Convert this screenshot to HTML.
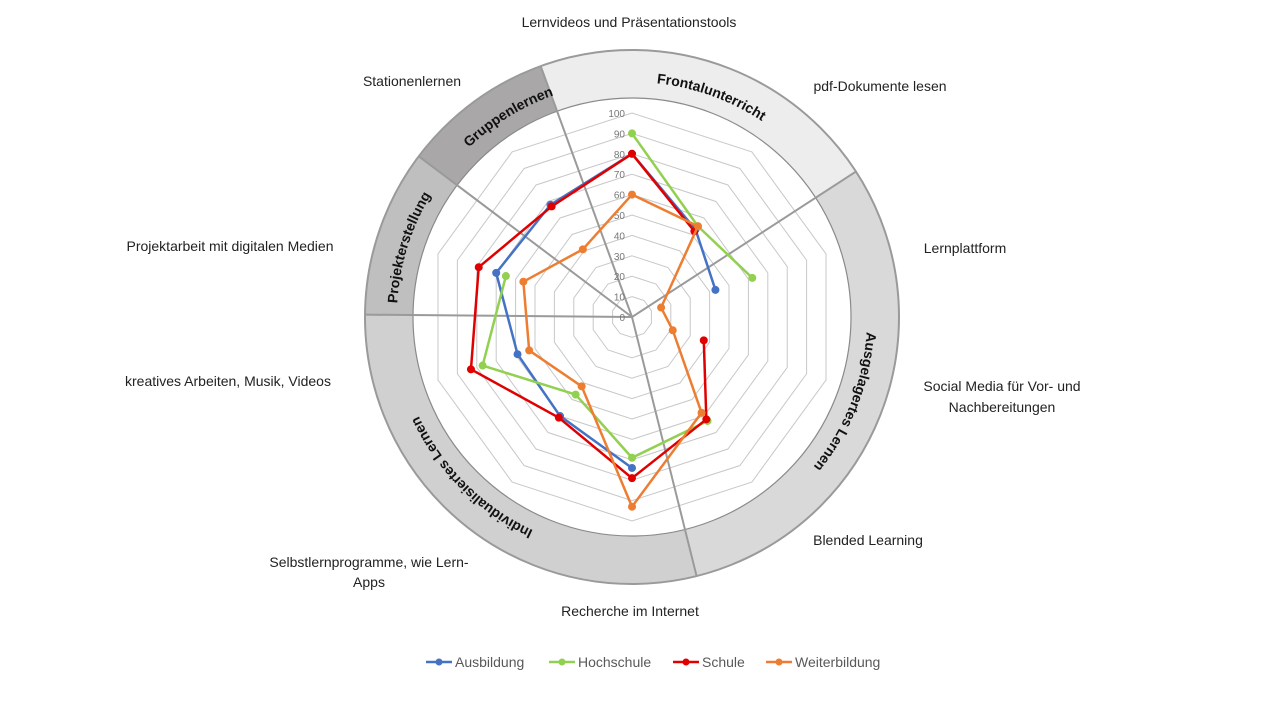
<!DOCTYPE html>
<html><head><meta charset="utf-8"><style>
html,body{margin:0;padding:0;background:#fff;}
svg{display:block;font-family:"Liberation Sans",sans-serif;}
</style></head><body>
<svg id="s" width="1280" height="720" viewBox="0 0 1280 720" xmlns="http://www.w3.org/2000/svg">
<defs>
<path id="circ" d="M632,82 A235,235 0 1 1 632,552 A235,235 0 1 1 632,82"/>
</defs>
<g id="ring"></g>
<g id="grid"></g>
<g id="series"></g>
<g font-size="14" fill="#222">
<text x="629" y="27" text-anchor="middle">Lernvideos und Präsentationstools</text>
<text x="880" y="91" text-anchor="middle">pdf-Dokumente lesen</text>
<text x="965" y="253" text-anchor="middle">Lernplattform</text>
<text x="1002" y="391" text-anchor="middle">Social Media für Vor- und</text>
<text x="1002" y="412" text-anchor="middle">Nachbereitungen</text>
<text x="868" y="545" text-anchor="middle">Blended Learning</text>
<text x="630" y="616" text-anchor="middle">Recherche im Internet</text>
<text x="369" y="567" text-anchor="middle">Selbstlernprogramme, wie Lern-</text>
<text x="369" y="587" text-anchor="middle">Apps</text>
<text x="228" y="386" text-anchor="middle">kreatives Arbeiten, Musik, Videos</text>
<text x="230" y="251" text-anchor="middle">Projektarbeit mit digitalen Medien</text>
<text x="412" y="86" text-anchor="middle">Stationenlernen</text>
</g>
<g font-size="14" font-weight="bold" fill="#111">
<text><textPath href="#circ" startOffset="5.5%" text-anchor="middle">Frontalunterricht</textPath></text>
<text><textPath href="#circ" startOffset="31%" text-anchor="middle">Ausgelagertes Lernen</textPath></text>
<text><textPath href="#circ" startOffset="62.5%" text-anchor="middle">Individualisiertes Lernen</textPath></text>
<text><textPath href="#circ" startOffset="79.8%" text-anchor="middle">Projekterstellung</textPath></text>
<text><textPath href="#circ" startOffset="91.2%" text-anchor="middle">Gruppenlernen</textPath></text>
</g>
<g font-size="14" fill="#595959">
<line x1="426" y1="662" x2="452" y2="662" stroke="#4472c4" stroke-width="2.5"/><circle cx="439" cy="662" r="3.5" fill="#4472c4"/>
<text x="455" y="667">Ausbildung</text>
<line x1="549" y1="662" x2="575" y2="662" stroke="#92d050" stroke-width="2.5"/><circle cx="562" cy="662" r="3.5" fill="#92d050"/>
<text x="578" y="667">Hochschule</text>
<line x1="673" y1="662" x2="699" y2="662" stroke="#e00000" stroke-width="2.5"/><circle cx="686" cy="662" r="3.5" fill="#e00000"/>
<text x="702" y="667">Schule</text>
<line x1="766" y1="662" x2="792" y2="662" stroke="#ed7d31" stroke-width="2.5"/><circle cx="779" cy="662" r="3.5" fill="#ed7d31"/>
<text x="795" y="667">Weiterbildung</text>
</g>
</svg>
<script>
var NS="http://www.w3.org/2000/svg",cx=632,cy=317,R=204;
function P(a,r){var t=a*Math.PI/180;return [cx+r*Math.sin(t),cy-r*Math.cos(t)];}
function el(n,at,par){var e=document.createElementNS(NS,n);for(var k in at)e.setAttribute(k,at[k]);par.appendChild(e);return e;}
var ring=document.getElementById('ring'),grid=document.getElementById('grid'),ser=document.getElementById('series');
var r1=219,r2=267;
var segs=[[-20,57,'#ededed'],[57,166,'#d9d9d9'],[166,270.5,'#d0d0d0'],[270.5,307,'#bfbfbf'],[307,340,'#a9a7a7']];
segs.forEach(function(s){var a=P(s[0],r2),b=P(s[1],r2),c=P(s[1],r1),d=P(s[0],r1);var lg=(s[1]-s[0])>180?1:0;
el('path',{d:'M'+a+' A'+r2+','+r2+' 0 '+lg+' 1 '+b+' L'+c+' A'+r1+','+r1+' 0 '+lg+' 0 '+d+' Z',fill:s[2]},ring);});
el('circle',{cx:cx,cy:cy,r:r2,fill:'none',stroke:'#9a9a9a','stroke-width':2},ring);
el('circle',{cx:cx,cy:cy,r:r1,fill:'#fff',stroke:'#8a8a8a','stroke-width':1.2},ring);
for(var k=1;k<=10;k++){var pts=[];for(var i=0;i<10;i++)pts.push(P(i*36,k*R/10).join(','));
el('polygon',{points:pts.join(' '),fill:'none',stroke:'#c8c8c8','stroke-width':1},grid);}
segs.forEach(function(s){var b=P(s[0],r2);el('line',{x1:cx,y1:cy,x2:b[0],y2:b[1],stroke:'#9a9a9a','stroke-width':2},grid);});
for(var k=0;k<=10;k++){var t=el('text',{x:625,y:cy-k*R/10+4,'text-anchor':'end','font-size':10,fill:'#777'},grid);t.textContent=k*10;}
var data=[['#4472c4',[80,53,43,null,null,74,60,59,70,68]],['#92d050',[90,55,62,null,63,69,47,77,65,null]],['#e00000',[80,52,null,37,62,79,61,83,79,67]],['#ed7d31',[60,55,15,21,58,93,42,53,56,41]]];
data.forEach(function(d){var v=d[1];for(var i=0;i<10;i++){var j=(i+1)%10;if(v[i]!=null&&v[j]!=null){var a=P(i*36,v[i]*R/100),b=P(j*36,v[j]*R/100);
el('line',{x1:a[0],y1:a[1],x2:b[0],y2:b[1],stroke:d[0],'stroke-width':2.5},ser);}}
for(var i=0;i<10;i++)if(v[i]!=null){var a=P(i*36,v[i]*R/100);el('circle',{cx:a[0],cy:a[1],r:4,fill:d[0]},ser);}});
</script>
</body></html>
